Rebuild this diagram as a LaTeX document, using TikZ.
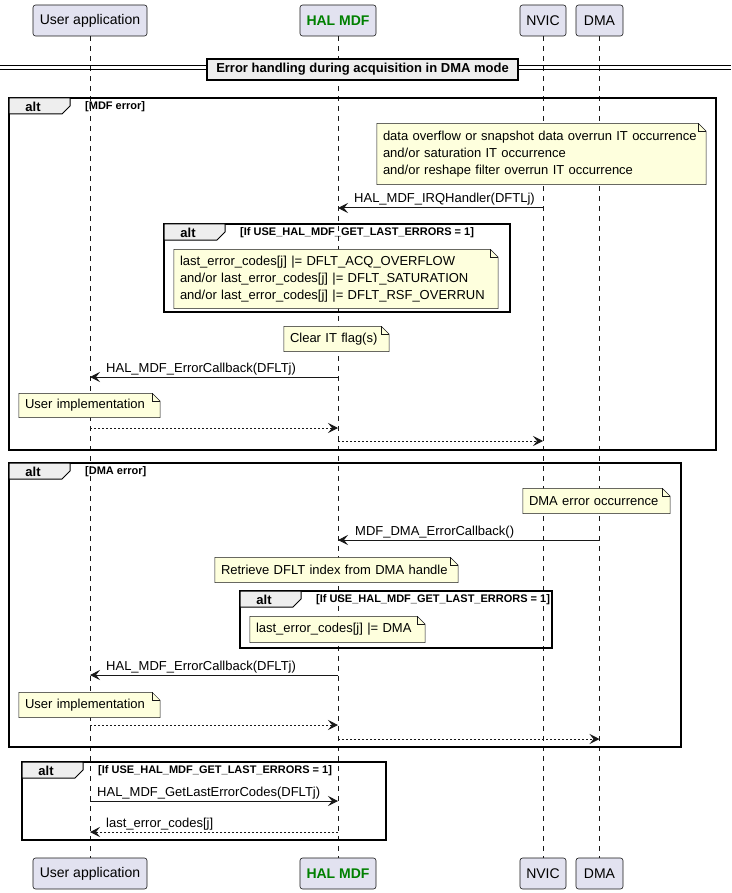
\documentclass[tikz,border=0pt]{standalone}
\usepackage{fontspec}
\setmainfont{Liberation Sans}
\usetikzlibrary{arrows.meta}
\definecolor{partfill}{HTML}{E2E2F0}
\definecolor{linecol}{HTML}{181818}
\definecolor{notefill}{HTML}{FEFFDD}
\definecolor{tabfill}{HTML}{EEEEEE}
\definecolor{halgreen}{HTML}{008000}
\pgfdeclarelayer{lifelayer}
\pgfdeclarelayer{notelayer}
\pgfsetlayers{lifelayer,notelayer,main}
\tikzset{
 part/.style={draw=linecol, line width=0.6pt, fill=partfill, rounded corners=2.5pt, minimum height=31pt, inner sep=0pt, font=\fontsize{14}{16}\selectfont},
 life/.style={draw=linecol, line width=0.5pt, dash pattern=on 5pt off 5pt},
 notetext/.style={inner xsep=6pt, inner ysep=0pt, align=left, font=\fontsize{13}{17}\selectfont},
 noteshape/.style={fill=notefill, draw=linecol, line width=0.5pt},
 msg/.style={draw=linecol, line width=1pt, -{Stealth[length=10pt,width=10pt,inset=4pt]}},
 reply/.style={msg, dash pattern=on 2pt off 2pt},
 msglabel/.style={anchor=base west, inner sep=0pt, font=\fontsize{13}{15}\selectfont},
 altframe/.style={draw=black, line width=1.5pt},
 alttab/.style={fill=tabfill, draw=black, line width=1pt},
 alttext/.style={inner sep=0pt, font=\bfseries\fontsize{13}{15}\selectfont},
 altcond/.style={anchor=west, inner sep=0pt, font=\bfseries\fontsize{11}{13}\selectfont},
 divbox/.style={fill=tabfill, draw=black, line width=1.5pt, font=\bfseries\fontsize{13}{15}\selectfont, minimum width=311pt, minimum height=21pt, inner sep=0pt},
 divline/.style={draw=black, line width=1pt},
}
% the note outline sits 2.5pt above its text node
\newcommand\notefold[1]{%
 \begin{pgfonlayer}{notelayer}
 \begin{scope}[yshift=2.5pt]
 \path[noteshape] (#1.north west) -- ([xshift=-8pt]#1.north east) -- ([yshift=-8pt]#1.north east) -- (#1.south east) -- (#1.south west) -- cycle;
 \draw[noteshape, fill=none] ([xshift=-8pt]#1.north east) |- ([yshift=-8pt]#1.north east);
 \end{scope}
 \end{pgfonlayer}}
% name, x0, y0, w, h, condition
\newcommand\altbox[6]{%
 \begin{scope}[shift={(#2,#3)}]
 \draw[altframe] (0,0) rectangle (#4,#5);
 \path[alttab] (0,0) -- (61,0) -- (61,8) -- (53,16) -- (0,16) -- cycle;
 \node[alttext] (#1t) at (24,8.5) {alt};
 \node[altcond] (#1c) at (76,9) {#6};
 \end{scope}}
\begin{document}
\begin{tikzpicture}[x=1pt,y=-1pt]
\useasboundingbox (0,0) rectangle (731,893);
% participants
\node[part, minimum width=114pt] (ua) at (90,20.5) {User application};
\node[part, minimum width=76pt, font=\bfseries\fontsize{14}{16}\selectfont, text=halgreen] (hm) at (338,20.5) {HAL MDF};
\node[part, minimum width=46pt] (nv) at (543,20.5) {NVIC};
\node[part, minimum width=47pt] (dm) at (599.5,20.5) {DMA};
\node[part, minimum width=114pt] (ub) at (90,873.5) {User application};
\node[part, minimum width=76pt, font=\bfseries\fontsize{14}{16}\selectfont, text=halgreen] (hb) at (338,873.5) {HAL MDF};
\node[part, minimum width=46pt] (nb) at (543,873.5) {NVIC};
\node[part, minimum width=47pt] (db) at (599.5,873.5) {DMA};
\begin{pgfonlayer}{lifelayer}
\draw[life] (ua.south) -- (ub.north);
\draw[life] (hm.south) -- (hb.north);
\draw[life] (nv.south) -- (nb.north);
\draw[life] (dm.south) -- (db.north);
\end{pgfonlayer}
% divider
\draw[divline] (0,66) -- (731,66);
\draw[divline] (0,70) -- (731,70);
\node[divbox] (div) at (362.5,69.5) {Error handling during acquisition in DMA mode};
% ---- MDF error
\altbox{a1}{9}{98}{707}{352}{[MDF error]}
\node[notetext, text width=317pt, minimum height=61pt] (n1) at (541.5,154) {data overflow or snapshot data overrun IT occurrence\\and/or saturation IT occurrence\\and/or reshape filter overrun IT occurrence};
\notefold{n1}
\coordinate (m1a) at (543,208); \coordinate (m1b) at (338,208);
\draw[msg] (m1a) -- (m1b);
\node[msglabel] (l1) at (354,203) {HAL\_MDF\_IRQHandler(DFTLj)};
\altbox{a1i}{164}{224}{346}{88}{[If USE\_HAL\_MDF\_GET\_LAST\_ERRORS = 1]}
\node[notetext, text width=312pt, minimum height=59pt] (n2) at (336,279) {last\_error\_codes[j] |= DFLT\_ACQ\_OVERFLOW\\and/or last\_error\_codes[j] |= DFLT\_SATURATION\\and/or last\_error\_codes[j] |= DFLT\_RSF\_OVERRUN};
\notefold{n2}
\node[notetext, text width=93pt, minimum height=25pt] (n3) at (336.5,339) {Clear IT flag(s)};
\notefold{n3}
\coordinate (m2a) at (338,377); \coordinate (m2b) at (90,377);
\draw[msg] (m2a) -- (m2b);
\node[msglabel] (l2) at (106,372) {HAL\_MDF\_ErrorCallback(DFLTj)};
\node[notetext, text width=129pt, minimum height=24pt] (n4) at (89.5,405.5) {User implementation};
\notefold{n4}
\coordinate (m3a) at (90,428); \coordinate (m3b) at (338,428);
\draw[reply] (m3a) -- (m3b);
\coordinate (m4a) at (338,441); \coordinate (m4b) at (543,441);
\draw[reply] (m4a) -- (m4b);
% ---- DMA error
\altbox{a2}{9}{463}{672}{284}{[DMA error]}
\node[notetext, text width=135pt, minimum height=25pt] (n5) at (596.5,501) {DMA error occurrence};
\notefold{n5}
\coordinate (m5a) at (599.5,540); \coordinate (m5b) at (338,540);
\draw[msg] (m5a) -- (m5b);
\node[msglabel] (l5) at (355,535) {MDF\_DMA\_ErrorCallback()};
\node[notetext, text width=231pt, minimum height=25pt] (n6) at (336.5,570) {Retrieve DFLT index from DMA handle};
\notefold{n6}
\altbox{a2i}{240}{591}{312}{57}{[If USE\_HAL\_MDF\_GET\_LAST\_ERRORS = 1]}
\node[notetext, text width=163pt, minimum height=26pt] (n7) at (337.5,629.5) {last\_error\_codes[j] |= DMA};
\notefold{n7}
\coordinate (m6a) at (338,675); \coordinate (m6b) at (90,675);
\draw[msg] (m6a) -- (m6b);
\node[msglabel] (l6) at (106,670) {HAL\_MDF\_ErrorCallback(DFLTj)};
\node[notetext, text width=129pt, minimum height=25pt] (n8) at (89.5,705) {User implementation};
\notefold{n8}
\coordinate (m7a) at (90,725); \coordinate (m7b) at (338,725);
\draw[reply] (m7a) -- (m7b);
\coordinate (m8a) at (338,739); \coordinate (m8b) at (599.5,739);
\draw[reply] (m8a) -- (m8b);
% ---- last errors
\altbox{a3}{22}{762}{364}{78}{[If USE\_HAL\_MDF\_GET\_LAST\_ERRORS = 1]}
\coordinate (m9a) at (90,801); \coordinate (m9b) at (338,801);
\draw[msg] (m9a) -- (m9b);
\node[msglabel] (l9) at (97,796) {HAL\_MDF\_GetLastErrorCodes(DFLTj)};
\coordinate (m10a) at (338,832); \coordinate (m10b) at (90,832);
\draw[reply] (m10a) -- (m10b);
\node[msglabel] (l10) at (106,827) {last\_error\_codes[j]};
\end{tikzpicture}
\end{document}
